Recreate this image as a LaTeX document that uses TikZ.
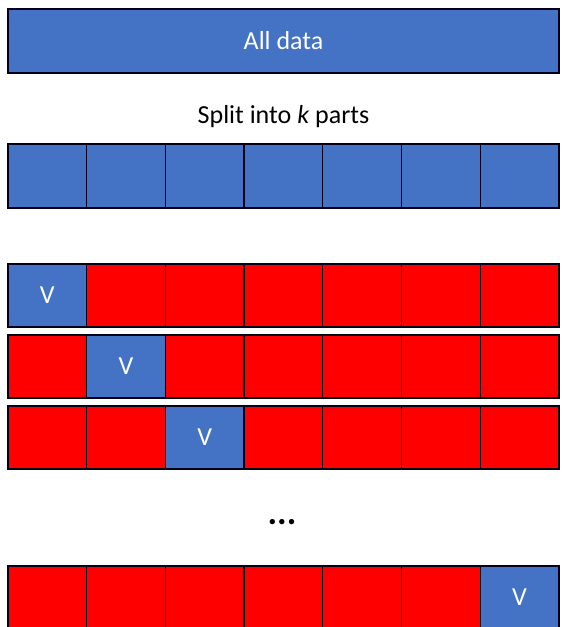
\documentclass[tikz,border=0pt]{standalone}
\usepackage{fontspec}
\setmainfont{Carlito}
\definecolor{offblue}{HTML}{4472C4}
\definecolor{offred}{HTML}{FF0000}
\tikzset{
  cellbox/.style={draw=black!90!blue, line width=1.3pt, minimum width=78.7pt, minimum height=63pt, inner sep=0pt, outer sep=0pt, anchor=north west, text=white, font=\fontsize{26}{30}\selectfont},
  bluecell/.style={cellbox, fill=offblue},
  redcell/.style={cellbox, fill=offred},
  caption/.style={font=\fontsize{26}{30}\selectfont, text=black, inner sep=0pt}
}
\begin{document}
\begin{tikzpicture}[x=1pt,y=-1pt]
\useasboundingbox (0,0) rectangle (563,627);
\clip (0,0) rectangle (563,627);
% top bar
\node[cellbox, fill=offblue, minimum width=551pt, minimum height=64pt] (all) at (8,9) {All data};
\node[caption] (split) at (283.5,117) {Split into \textit{k} parts};
% split row
\foreach \i in {0,...,6} {
  \node[bluecell, minimum height=64pt] (s\i) at (8+78.7*\i,144) {};
}
% fold rows
\foreach \i in {0,...,6} {
  \ifnum\i=0 \node[bluecell] (a\i) at (8+78.7*\i,264) {V};
  \else \node[redcell] (a\i) at (8+78.7*\i,264) {}; \fi
  \ifnum\i=1 \node[bluecell] (b\i) at (8+78.7*\i,335) {V};
  \else \node[redcell] (b\i) at (8+78.7*\i,335) {}; \fi
  \ifnum\i=2 \node[bluecell] (c\i) at (8+78.7*\i,406) {V};
  \else \node[redcell] (c\i) at (8+78.7*\i,406) {}; \fi
  \ifnum\i=6 \node[bluecell] (d\i) at (8+78.7*\i,566) {V};
  \else \node[redcell] (d\i) at (8+78.7*\i,566) {}; \fi
}
\node[caption, anchor=base, font=\fontsize{36}{40}\selectfont\bfseries] (dots) at (282,524) {...};
\end{tikzpicture}
\end{document}
